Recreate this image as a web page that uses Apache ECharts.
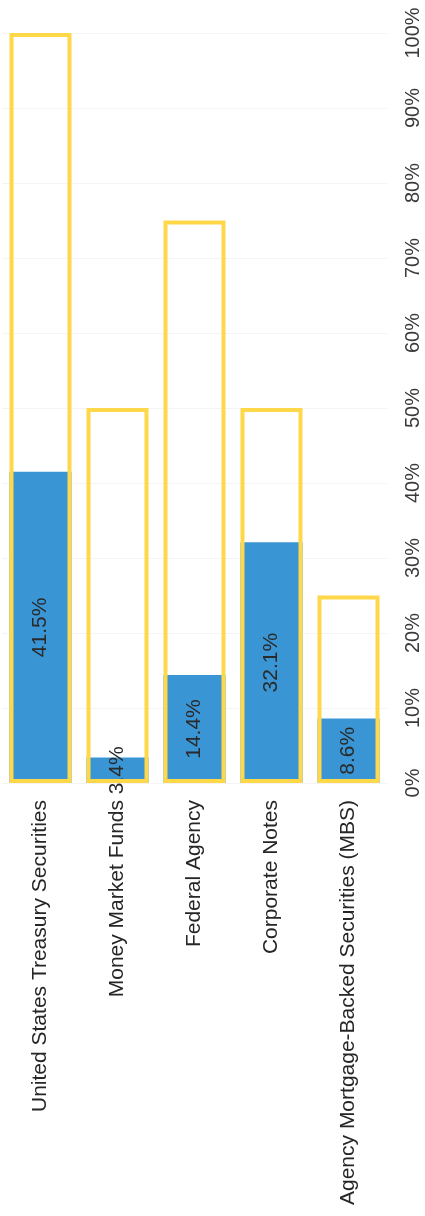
<!DOCTYPE html>
<html>
<head>
<meta charset="utf-8">
<style>
  html, body { margin: 0; padding: 0; background: #ffffff; }
  #chart { width: 425px; height: 1216px; }
</style>
<script src="https://cdn.jsdelivr.net/npm/echarts@6/dist/echarts.min.js"></script>
</head>
<body>
<div id="chart"></div>
<script>
// Portfolio holdings by sector against policy limits
const categories = [
  'United States Treasury Securities',
  'Money Market Funds',
  'Federal Agency',
  'Corporate Notes',
  'Agency Mortgage-Backed Securities (MBS)'
];
const holdings = [41.5, 3.4, 14.4, 32.1, 8.6];   // current allocation, %
const limits = [100, 50, 75, 50, 25];            // policy maximum, %
const tickMin = 0;
const tickMax = 100;
const tickStep = 10;

const FONT = '"Liberation Sans", Arial, sans-serif';
const BLUE = '#3a95d5';
const YELLOW = '#ffd84a';

const chart = echarts.init(document.getElementById('chart'), null, { renderer: 'canvas' });

chart.setOption({
  backgroundColor: '#ffffff',
  animation: false,
  grid: { left: 2, right: 38, top: 33, bottom: 433, containLabel: false },
  xAxis: {
    type: 'category',
    data: categories,
    axisLine: { show: false },
    axisTick: { show: false },
    axisLabel: {
      rotate: 90,
      margin: 17,
      interval: 0,
      fontFamily: FONT,
      fontSize: 21,
      color: '#262626'
    }
  },
  yAxis: {
    type: 'value',
    position: 'right',
    min: tickMin,
    max: tickMax,
    interval: tickStep,
    axisLine: { show: false },
    axisTick: { show: false },
    splitLine: { show: true, lineStyle: { color: '#f4f4f4', width: 1 } },
    axisLabel: {
      rotate: 90,
      margin: 16,
      align: 'center',
      verticalAlign: 'top',
      fontFamily: FONT,
      fontSize: 20,
      color: '#3a3a3a',
      formatter: '{value}%'
    }
  },
  series: [
    {
      name: 'Holdings',
      type: 'bar',
      data: holdings,
      barWidth: 62,
      barGap: '-100%',
      z: 2,
      itemStyle: { color: BLUE },
      label: {
        show: true,
        position: 'inside',
        rotate: 90,
        fontFamily: FONT,
        fontSize: 21,
        color: '#2a2a2a',
        formatter: p => p.value.toFixed(1) + '%'
      }
    },
    {
      name: 'Limit',
      type: 'bar',
      data: limits,
      barWidth: 62,
      barGap: '-100%',
      z: 3,
      silent: true,
      itemStyle: { color: 'rgba(0,0,0,0)', borderColor: YELLOW, borderWidth: 4 }
    }
  ]
});
</script>
</body>
</html>
